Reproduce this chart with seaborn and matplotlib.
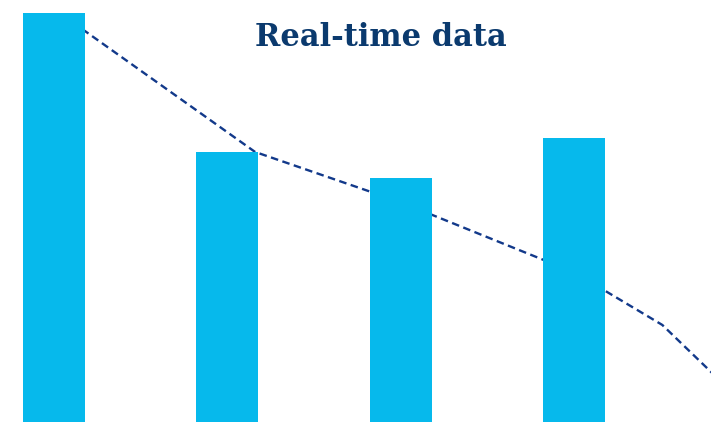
import matplotlib
matplotlib.use("Agg")
import matplotlib.pyplot as plt
import seaborn as sns
import pandas as pd

# Bar values per period
categories = ["P1", "P2", "P3", "P4"]
bar_values = [96.9, 64.0, 57.8, 67.3]

# Real-time trend line (positions on the category axis, values)
line_x = [0.05, 1.16, 2.0, 3.0, 3.51, 4.0]
line_y = [96.4, 64.0, 52.1, 35.5, 23.0, 3.6]

title_text = "Real-time data"

bar_color = "#06B9EC"
line_color = "#12398A"
title_color = "#0B3A6E"

sns.set_theme(style="white")

fig = plt.figure(figsize=(7.11, 4.22), dpi=100)
ax = fig.add_axes([0, 0, 1, 1])

bars_df = pd.DataFrame({"period": categories, "value": bar_values})
line_df = pd.DataFrame({"x": line_x, "y": line_y})

sns.lineplot(data=line_df, x="x", y="y", ax=ax, color=line_color,
             linewidth=1.7, sort=False, zorder=1)
ax.lines[-1].set_linestyle((0, (3.2, 1.9)))

sns.barplot(data=bars_df, x="period", y="value", ax=ax, color=bar_color,
            saturation=1, width=0.358, linewidth=0, zorder=2)

ax.set_xlim(-0.3116, 3.791)
ax.set_ylim(0, 100)
ax.set_axis_off()

fig.text(0.536, 0.912, title_text, ha="center", va="center",
         fontsize=22, fontweight="bold", family="DejaVu Serif",
         color=title_color)

fig.savefig("out.png", dpi=100)
